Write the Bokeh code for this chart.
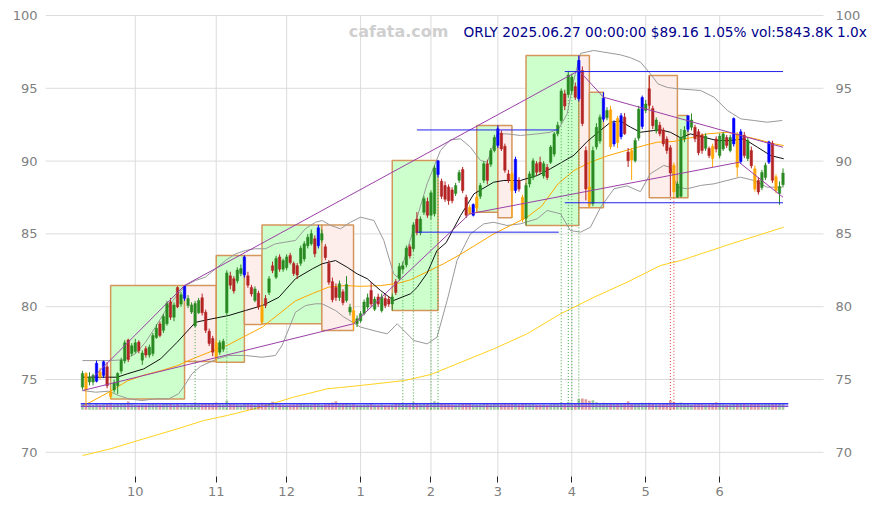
from bokeh.plotting import figure
from bokeh.models import FixedTicker, Label, Range1d, ColumnDataSource
from bokeh.core.properties import value
from bokeh.embed import file_html
from bokeh.resources import INLINE

# ---------------- data (trading-day index 0..199, 2024-09-10 .. 2025-06-27) ----------------
opens = [74.5, 75.4, 74.85, 74.85, 74.9, 75.5, 75.3, 75.85, 74.1, 74.3,
         74.6, 75.6, 76.3, 77.7, 76.8, 76.95, 77.55, 76.35, 77.1, 76.7,
         76.8, 77.9, 78.8, 78.4, 78.85, 80.3, 79.3, 81.3, 80.2, 80.6,
         80.1, 79.65, 78.7, 79.6, 80.6, 79.6, 78.3, 77.8, 77.5, 76.9,
         77.1, 79.6, 82.1, 81.9, 81.8, 82.3, 82.2, 82.1, 81.3, 80.45,
         80.9, 80.0, 80.55, 81.0, 82.8, 82.05, 83.4, 82.6, 82.7, 83.5,
         82.95, 82.8, 83.0, 83.3, 84.2, 84.35, 84.65, 84.2, 84.6, 84.1,
         82.95, 81.7, 81.3, 80.65, 81.0, 80.45, 79.65, 79.7, 78.85, 79.05,
         79.55, 80.0, 81.1, 79.85, 80.65, 79.75, 80.55, 80.5, 80.2, 81.7,
         81.95, 82.6, 82.9, 84.1, 84.0, 86.0, 85.1, 86.5, 87.2, 86.3,
         86.4, 89.1, 88.6, 88.3, 88.2, 88.0, 87.8, 88.7, 89.4, 87.5,
         86.8, 86.3, 86.8, 87.6, 88.7, 89.8, 89.8, 90.75, 91.1, 91.9,
         91.0, 89.1, 89.1, 88.0, 88.65, 87.5, 86.1, 88.45, 88.9, 89.8,
         89.9, 89.0, 89.55, 89.95, 90.5, 91.9, 92.8, 94.6, 94.6, 94.85,
         95.1, 94.3, 96.2, 90.7, 88.2, 87.1, 91.0, 91.4, 92.9, 93.0,
         93.5, 91.2, 92.9, 91.7, 93.0, 90.6, 90.7, 90.05, 91.6, 92.4,
         93.5, 94.95, 93.6, 92.1, 92.45, 92.1, 91.5, 90.9, 89.7, 87.55,
         87.6, 91.55, 92.2, 92.35, 92.3, 92.0, 91.75, 90.9, 90.85, 91.0,
         91.5, 90.4, 90.85, 91.6, 90.75, 91.2, 91.85, 90.0, 91.75, 90.2,
         90.7, 89.45, 88.65, 88.2, 88.9, 89.95, 91.2, 88.9, 87.8, 88.4]
highs = [75.6, 75.5, 75.5, 75.4, 76.3, 75.8, 76.3, 76.2, 74.4, 75.0,
         75.5, 76.5, 77.7, 77.8, 77.5, 77.8, 77.7, 77.0, 77.3, 77.4,
         78.2, 78.8, 79.0, 79.5, 80.4, 80.6, 80.3, 81.4, 81.0, 81.46,
         80.8, 80.3, 80.4, 80.6, 80.9, 79.8, 78.5, 78.0, 77.7, 77.7,
         77.8, 82.5, 82.4, 82.1, 82.7, 82.9, 83.52, 82.4, 81.5, 81.4,
         81.1, 80.3, 80.8, 82.1, 83.1, 83.5, 83.6, 83.3, 83.6, 83.7,
         83.1, 83.0, 84.2, 84.5, 85.0, 85.3, 84.9, 85.62, 85.3, 84.3,
         83.2, 82.0, 81.6, 81.8, 81.2, 82.1, 80.2, 79.9, 79.4, 79.7,
         80.5, 80.9, 81.7, 80.7, 80.9, 80.9, 80.8, 80.7, 80.9, 81.9,
         83.0, 83.1, 84.2, 84.3, 85.8, 86.5, 86.2, 87.6, 87.5, 88.0,
         89.7, 90.04, 88.8, 88.6, 88.4, 88.2, 88.5, 89.4, 89.6, 87.7,
         87.0, 87.1, 87.7, 88.5, 90.0, 90.1, 90.9, 91.8, 92.45, 92.1,
         91.2, 89.4, 89.3, 90.3, 88.9, 87.7, 88.5, 89.3, 90.2, 90.0,
         90.3, 90.0, 89.8, 91.1, 92.0, 92.7, 95.0, 94.9, 96.2, 96.0,
         95.4, 97.25, 96.5, 91.0, 90.0, 91.0, 92.6, 93.2, 94.73, 93.7,
         93.8, 92.8, 93.1, 93.3, 93.3, 90.9, 90.9, 91.6, 93.8, 94.5,
         94.2, 95.88, 93.8, 93.0, 92.7, 92.3, 91.7, 91.1, 89.9, 88.6,
         92.2, 92.4, 93.13, 93.27, 92.5, 92.2, 91.9, 91.9, 91.0, 91.2,
         91.7, 91.9, 92.0, 91.8, 91.8, 93.0, 92.0, 92.2, 92.0, 91.6,
         91.0, 89.7, 88.9, 89.4, 89.9, 91.4, 91.4, 89.1, 88.6, 89.5]
lows = [74.3, 73.2, 74.6, 74.6, 74.8, 75.0, 75.1, 74.4, 73.67, 74.1,
        74.0, 75.4, 76.1, 76.2, 76.6, 76.8, 76.8, 76.0, 76.5, 76.5,
        76.6, 77.8, 77.9, 78.2, 78.7, 79.1, 79.0, 79.9, 80.0, 80.4,
        79.9, 79.5, 78.6, 79.5, 79.4, 78.2, 77.3, 76.6, 76.24, 76.7,
        76.9, 79.4, 81.2, 80.9, 81.6, 82.1, 82.0, 81.3, 80.7, 80.3,
        79.8, 78.78, 79.9, 80.8, 82.3, 81.9, 82.4, 82.4, 82.5, 82.9,
        82.1, 81.9, 82.8, 83.1, 84.0, 84.2, 83.4, 84.0, 84.4, 83.2,
        81.5, 80.3, 80.4, 80.4, 80.1, 80.3, 79.4, 78.37, 78.6, 78.9,
        79.4, 79.8, 80.0, 79.7, 80.0, 79.6, 79.9, 80.0, 79.74, 80.8,
        81.8, 82.3, 82.7, 83.3, 83.8, 84.9, 84.9, 86.3, 86.1, 86.0,
        86.2, 88.9, 87.4, 87.2, 87.0, 87.1, 87.6, 88.5, 87.8, 86.1,
        86.3, 86.2, 86.49, 87.4, 88.5, 88.4, 89.6, 90.6, 90.9, 90.7,
        89.2, 88.5, 86.11, 87.8, 87.9, 85.8, 85.58, 88.2, 88.7, 89.0,
        89.1, 88.8, 88.7, 89.8, 90.3, 91.7, 92.6, 93.5, 94.4, 94.6,
        94.2, 94.1, 92.4, 87.3, 86.79, 86.9, 90.8, 91.2, 92.7, 92.8,
        90.8, 91.0, 90.9, 91.5, 91.8, 89.6, 88.7, 89.9, 91.4, 92.2,
        93.3, 93.6, 92.2, 91.9, 91.7, 91.0, 90.5, 87.6, 87.48, 87.48,
        87.5, 91.3, 92.0, 92.1, 91.3, 90.4, 90.5, 90.7, 90.2, 89.6,
        90.6, 90.2, 90.7, 90.9, 90.6, 91.0, 88.9, 89.8, 90.2, 90.0,
        89.5, 87.9, 87.7, 88.0, 88.7, 89.8, 88.5, 87.8, 87.0, 88.2]
closes = [75.4, 74.3, 75.15, 75.25, 76.1, 75.2, 76.2, 74.6, 73.85, 74.75,
          75.4, 76.3, 77.5, 76.4, 77.3, 77.5, 77.0, 76.8, 76.7, 77.2,
          78.0, 78.5, 78.05, 79.3, 80.2, 79.3, 80.1, 80.0, 80.8, 81.4,
          80.55, 80.1, 80.2, 80.4, 79.6, 78.4, 77.5, 76.9, 76.5, 77.5,
          77.6, 82.3, 81.5, 81.1, 82.5, 82.6, 83.4, 81.5, 80.9, 81.2,
          80.0, 79.0, 80.1, 81.9, 82.5, 83.3, 82.6, 83.15, 83.4, 83.05,
          82.3, 82.2, 84.0, 84.3, 84.75, 85.0, 83.65, 85.4, 85.0, 83.4,
          81.7, 80.5, 80.65, 81.55, 80.3, 81.5, 79.95, 78.9, 79.15, 79.5,
          80.3, 80.6, 80.2, 80.5, 80.2, 80.65, 80.1, 80.2, 80.65, 81.0,
          82.75, 82.8, 84.0, 83.5, 85.6, 85.1, 86.0, 87.4, 86.3, 87.8,
          89.5, 90.0, 87.6, 87.4, 87.3, 87.3, 88.3, 89.2, 88.0, 86.3,
          86.4, 87.0, 87.5, 88.3, 89.8, 88.7, 90.7, 91.6, 92.2, 90.85,
          89.4, 88.7, 88.0, 90.1, 88.1, 86.0, 88.3, 89.1, 90.0, 89.25,
          89.3, 89.8, 88.9, 90.95, 91.85, 92.45, 94.8, 93.8, 95.9, 95.75,
          94.4, 96.9, 92.6, 88.1, 87.0, 90.7, 92.3, 93.0, 94.3, 93.45,
          91.0, 92.6, 91.3, 93.1, 91.9, 90.05, 90.1, 91.4, 93.55, 94.35,
          93.9, 93.85, 92.45, 92.8, 91.9, 91.2, 90.75, 89.2, 87.9, 88.4,
          91.6, 92.1, 93.1, 92.8, 91.55, 90.6, 90.75, 91.7, 90.4, 90.2,
          90.85, 91.7, 91.85, 91.1, 91.6, 92.9, 89.6, 92.0, 90.4, 91.4,
          89.7, 88.1, 87.9, 89.2, 89.7, 91.3, 88.7, 88.0, 88.23, 89.16]
volumes = [5200, 6100, 4800, 4300, 5600, 4700, 5100, 5900, 6400, 4900,
           5300, 5800, 6200, 7600, 5000, 4600, 4400, 4900, 4700, 5100,
           5500, 5200, 4800, 5300, 6000, 5400, 4900, 6300, 4700, 5600,
           4500, 4800, 6100, 5000, 5300, 5900, 5600, 6200, 6800, 5100,
           4900, 8200, 6100, 5200, 5000, 4600, 5800, 5400, 5200, 4700,
           5600, 6400, 5100, 5500, 7400, 5300, 5000, 4600, 4400, 4700,
           4900, 5200, 5600, 5100, 4800, 5000, 5500, 5900, 4300, 5200,
           6300, 6600, 7900, 5100, 5300, 5700, 4800, 6200, 4500, 4400,
           4600, 4900, 5400, 4700, 4500, 4800, 4300, 4200, 4600, 5900,
           6200, 5400, 5800, 5200, 6900, 5600, 5000, 6300, 5500, 6100,
           7800, 6500, 5900, 5300, 5100, 4800, 4600, 5200, 5700, 6000,
           5400, 5100, 4900, 5200, 5600, 5300, 4900, 5400, 5800, 5200,
           5900, 5000, 6200, 5700, 4800, 5900, 6100, 5000, 5300, 4700,
           4600, 4800, 4500, 5100, 5600, 5200, 6800, 6300, 7200, 6400,
           6100, 9800, 10400, 9600, 8300, 8800, 6900, 6200, 6400, 5500,
           6300, 5800, 5900, 6000, 5400, 7900, 6200, 5800, 6300, 6500,
           5600, 6400, 5900, 5000, 5200, 5400, 5700, 8600, 7200, 6300,
           6800, 5400, 5600, 4900, 5100, 5500, 5000, 4800, 5100, 5600,
           6900, 5300, 5000, 4700, 4800, 5900, 6300, 6100, 5500, 5200,
           5600, 5800, 5400, 5000, 5300, 6000, 6200, 5700, 6100, 5843.8]
blue_idx = [4, 6, 29, 46, 67, 101, 111, 118, 123, 141, 148, 151, 153, 159, 172, 185, 187, 195]
orange_idx = [1, 5, 8, 38, 51, 77, 110, 112, 122, 125, 144, 150, 152, 156, 168, 179, 186, 191, 197]

month_tick_idx = [15, 38, 58, 79, 99, 118, 139, 160, 181]
month_labels = ["10", "11", "12", "1", "2", "3", "4", "5", "6"]
price_ticks = [70, 75, 80, 85, 90, 95, 100]

# moving averages / bands (index, price)
sma_i = [0, 9.9, 12.7, 17.4, 22.2, 26.9, 32.1, 36.8, 41.6, 46.3, 51.1, 55.8, 60.5, 65.3, 68.1,
         71.9, 75.2, 78.0, 80.9, 84.7, 88.4, 93.2, 95.1, 97.9, 100.7, 103.3, 107.4, 111.2, 116.8,
         119.7, 124.4, 129.2, 132.9, 135.8, 139.6, 143.4, 146.6, 150, 152.8, 155.7, 158.5, 162.3,
         164.2, 167, 169.9, 172.7, 176.5, 180.3, 184.1, 187.9, 191.7, 195.5, 199.2]
sma_p = [75.16, 75.16, 75.39, 75.73, 76.42, 77.56, 78.93, 79.17, 79.4, 79.74, 80.08, 80.65, 81.92,
         82.6, 82.95, 83.17, 82.71, 82.26, 81.92, 81.11, 80.43, 80.89, 81.34, 82.3, 83.86, 84.4,
         86.26, 87.75, 88.55, 88.67, 88.67, 89.01, 89.47, 89.87, 90.4, 91.35, 92.0, 92.67, 92.75,
         92.33, 91.98, 92.1, 92.15, 91.98, 91.6, 91.87, 91.64, 91.41, 91.41, 91.53, 90.96, 90.38, 90.16]
bbu_i = [0, 7.5, 11.3, 15.1, 17.9, 20.7, 23.6, 26.4, 29.3, 32.1, 34.9, 37.8, 40.6, 43.5, 46.3,
         49.1, 52, 54.8, 60.5, 63.3, 66.2, 68.1, 70.5, 73.3, 76.1, 79, 82.8, 85.6, 88.4, 89.4,
         91.3, 95.1, 97.9, 101.7, 104.5, 107.4, 110.2, 113.1, 115, 117.8, 120.6, 124.4, 129.2,
         132.9, 135.3, 137.7, 139.5, 141.5, 145.2, 147.7, 152.8, 155.7, 158.5, 161, 163.5, 166.2,
         170, 175.6, 179.4, 183.2, 187, 190.7, 194.5, 198.8]
bbu_p = [76.3, 76.3, 76.35, 76.77, 77.56, 78.59, 79.74, 80.65, 81.46, 81.8, 82.03, 82.6, 83.17,
         83.63, 83.86, 83.98, 83.98, 84.32, 84.55, 85.35, 85.8, 85.92, 85.58, 85.35, 85.8, 86.15,
         85.92, 84.55, 82.26, 82.03, 83.17, 86.15, 88.44, 90.73, 91.46, 91.53, 90.96, 90.04, 89.92,
         91.87, 91.87, 91.76, 91.87, 91.98, 92.22, 93.25, 95.5, 97.4, 97.6, 97.5, 97.3, 97.1, 96.8,
         96.1, 95.3, 95.05, 94.95, 94.85, 94.39, 93.48, 92.9, 92.79, 92.67, 92.79]
bbl_i = [0, 3.8, 7.5, 10.3, 13.2, 16.9, 20.7, 24.5, 27.3, 29.3, 31.1, 33.5, 38.3, 41.6, 46.3,
         51, 54.8, 56.7, 58.6, 60.5, 63.4, 66.2, 68.1, 70, 71.9, 74.2, 79, 83.7, 86.6, 89.4,
         94.1, 97.9, 100.7, 103.6, 106.4, 110.2, 114, 116.8, 120.6, 124.4, 129.2, 132, 135.8,
         138.6, 141.5, 144.3, 147.2, 151, 154.7, 158.5, 161.3, 165.1, 167, 168.9, 171.8, 175.6,
         179.4, 183.1, 186.9, 190.7, 194.5, 198.8]
bbl_p = [74.24, 74.13, 74.2, 73.9, 73.67, 73.56, 73.67, 73.67, 74.02, 74.7, 75.39, 75.9, 76.42,
         76.65, 76.65, 76.53, 76.65, 77.34, 78.48, 79.62, 80.08, 80.2, 80.2, 79.97, 79.74, 79.3,
         78.6, 78.3, 78.14, 78.83, 77.68, 77.45, 77.9, 80.43, 83.17, 85.0, 85.69, 85.8, 85.58,
         85.69, 86.04, 86.61, 86.38, 85.23, 85.12, 85.46, 86.84, 88.1, 88.3, 87.9, 89.13, 89.7,
         89.58, 88.21, 88.1, 88.33, 88.44, 88.67, 88.9, 88.67, 88.21, 88.21]
ma_mid_i = [0, 2.3, 8, 12.7, 17.4, 22.2, 26.9, 32.1, 36.8, 41.6, 46.3, 51.1, 55.8, 60.5, 65.3,
            70.0, 74.5, 79, 84.7, 89.5, 93.2, 97.9, 102.6, 107.4, 112.1, 116.8, 121.6, 126.3,
            130.4, 135.1, 139.6, 144.3, 149, 154.7, 159.5, 163.3, 168.0, 172.7, 177.4, 183.1,
            186.9, 191.7, 196.4, 199.2]
ma_mid_p = [73.2, 73.45, 74.2, 74.9, 75.3, 75.6, 75.95, 76.5, 76.95, 77.4, 78.0, 78.6, 79.5,
            80.4, 80.9, 81.35, 81.45, 81.4, 81.45, 81.6, 81.85, 82.4, 82.95, 83.6, 84.3, 85.0,
            85.58, 86.15, 86.9, 88.44, 89.35, 89.93, 90.35, 90.75, 91.07, 91.3, 91.35, 91.6,
            91.87, 91.98, 91.76, 91.5, 91.19, 91.07]
ma_long_i = [0, 8, 17.4, 26.9, 34.4, 41.1, 50.6, 60.0, 69.5, 79.0, 91.5, 99, 116.8, 126.3,
             135.8, 145.3, 154.7, 164.2, 169.9, 184, 199.2]
ma_long_p = [69.78, 70.24, 70.93, 71.61, 72.18, 72.53, 73.1, 73.79, 74.36, 74.59, 74.93, 75.35,
             77.1, 78.14, 79.51, 80.65, 81.68, 82.83, 83.17, 84.3, 85.46]

# trend channel pivots (index, price)
upper_trend_i = [3, 29, 141, 148, 199]
upper_trend_p = [75.14, 81.46, 96.22, 94.39, 90.95]
lower_trend_i = [0, 77, 110, 186.5, 199]
lower_trend_p = [74.24, 78.83, 86.38, 89.92, 87.52]

# swing boxes
box_left = [8, 29, 38, 46, 51, 68, 88, 112, 118, 126, 141, 144, 161, 169]
box_right = [29, 38, 46, 51, 68, 77, 101, 118, 122, 141, 144, 148, 169, 172]
box_top = [81.46, 81.46, 83.52, 83.52, 85.62, 85.62, 90.04, 92.45, 92.45, 97.25, 97.25, 94.73, 95.88, 93.13]
box_bottom = [73.67, 76.24, 76.19, 78.78, 78.83, 78.37, 79.74, 86.49, 86.11, 85.58, 86.79, 86.79, 87.48, 87.48]
box_up = [True, False, True, False, True, False, True, True, False, True, False, True, False, True]

# horizontal support / resistance levels
level_start = [95, 95, 137, 137]
level_end = [135.3, 135.3, 199, 199]
level_price = [92.14, 85.12, 96.15, 87.14]

# signal days
buy_signal_idx = [32, 41, 91, 94, 99, 101, 136, 138, 139, 141]
sell_signal_idx = [167, 168]

vol_ref_levels = [5470, 3330]

title_text = "ORLY 2025.06.27 00:00:00 $89.16 1.05% vol:5843.8K 1.0x"
watermark = "cafata.com"

# ---------------- style ----------------
GREEN = "#2a8a22"
RED = "#b52424"
BLUE = "#0000ff"
ORANGE = "#ffa500"
GRID = "#dcdcdc"
VOL_BASE = 72.92
VOL_SCALE = 7.5e-5
X_LO, X_HI = -10.5, 210.5          # price-panel extent (index units)
Y_LO, Y_HI = 68.34, 100.0          # price-panel extent (price units)

n = len(closes)
idx = list(range(n))
colors = []
for i in idx:
    if i in blue_idx:
        colors.append(BLUE)
    elif i in orange_idx:
        colors.append(ORANGE)
    elif closes[i] >= opens[i]:
        colors.append(GREEN)
    else:
        colors.append(RED)
vol_colors = [GREEN if closes[i] >= opens[i] else RED for i in idx]
body_top = [max(o, c) + 0.02 for o, c in zip(opens, closes)]
body_bot = [min(o, c) - 0.02 for o, c in zip(opens, closes)]

src = ColumnDataSource(dict(x=idx, o=opens, h=highs, l=lows, c=closes, top=body_top,
                            bot=body_bot, col=colors, vtop=[VOL_BASE + v * VOL_SCALE for v in volumes],
                            vbot=[VOL_BASE] * n, vcol=vol_colors))

# frame spans page x 45..872, y 0..476 (price panel itself is x 45..823, y 15..476);
# the extra room holds the right-hand price labels and the header text
p = figure(width=876, height=504, output_backend="svg", toolbar_location=None,
           x_range=Range1d(X_LO, 224.42), y_range=Range1d(Y_LO, 101.03),
           min_border_left=45, min_border_right=4, min_border_top=0, min_border_bottom=28,
           y_axis_location="left")
p.outline_line_color = None
p.background_fill_color = "white"
p.border_fill_color = "white"
p.grid.visible = False

ya = p.yaxis[0]
ya.ticker = FixedTicker(ticks=price_ticks)
ya.axis_line_color = None
ya.major_tick_line_color = None
ya.minor_tick_line_color = None
ya.major_label_text_color = "#808080"
ya.major_label_text_font = "DejaVu Sans"
ya.major_label_text_font_size = "13px"
ya.major_label_standoff = 8
ya.major_tick_out = 0
ya.major_tick_in = 0

xa = p.xaxis[0]
xa.ticker = FixedTicker(ticks=month_tick_idx)
xa.major_label_overrides = {t: l for t, l in zip(month_tick_idx, month_labels)}
xa.axis_line_color = None
xa.minor_tick_line_color = None
xa.major_tick_line_color = "#222222"
xa.major_tick_out = 6
xa.major_tick_in = 0
xa.major_label_standoff = 4
xa.major_label_text_color = "#808080"
xa.major_label_text_font = "DejaVu Sans"
xa.major_label_text_font_size = "13px"

# grid lines limited to the price panel
p.segment(x0=[X_LO] * len(price_ticks), x1=[X_HI] * len(price_ticks), y0=price_ticks, y1=price_ticks,
          line_color=GRID, line_width=1)
p.segment(x0=month_tick_idx, x1=month_tick_idx, y0=[Y_LO] * len(month_tick_idx),
          y1=[Y_HI] * len(month_tick_idx), line_color=GRID, line_width=1)

# right-hand price labels
p.text(x=[213.9] * len(price_ticks), y=price_ticks, text=[str(t) for t in price_ticks],
       text_align="left", text_baseline="middle", text_font=value("DejaVu Sans"),
       text_font_size="13px", text_color="#808080")

# boxes
bsrc = ColumnDataSource(dict(l=box_left, r=box_right, t=box_top, b=box_bottom,
                             f=["#ccffcc" if u else "#fdeeec" for u in box_up]))
p.quad(left="l", right="r", top="t", bottom="b", fill_color="f", fill_alpha=1.0,
       line_color="#d4965a", line_width=1.5, source=bsrc)

# lines
p.line(ma_long_i, ma_long_p, line_color="#ffd21f", line_width=1)
p.line(bbu_i, bbu_p, line_color="#999999", line_width=1)
p.line(bbl_i, bbl_p, line_color="#999999", line_width=1)
p.line(ma_mid_i, ma_mid_p, line_color="#ffa500", line_width=1)
p.line(sma_i, sma_p, line_color="#111111", line_width=1)

# signal verticals
p.segment(x0=buy_signal_idx, x1=buy_signal_idx, y0=[lows[i] for i in buy_signal_idx],
          y1=[VOL_BASE] * len(buy_signal_idx), line_color="#44aa44", line_width=1, line_dash="1 2")
p.segment(x0=sell_signal_idx, x1=sell_signal_idx, y0=[lows[i] for i in sell_signal_idx],
          y1=[VOL_BASE] * len(sell_signal_idx), line_color="#dd4444", line_width=1, line_dash="1 2")

# volume
p.vbar(x="x", width=0.75, top="vtop", bottom="vbot", fill_color="vcol", fill_alpha=0.45,
       line_color=None, source=src)
p.segment(x0=[-0.5, -0.5], x1=[n + 0.5, n + 0.5],
          y0=[VOL_BASE + v * VOL_SCALE for v in vol_ref_levels],
          y1=[VOL_BASE + v * VOL_SCALE for v in vol_ref_levels],
          line_color=["#3333ff", "#7a4fd0"], line_width=1.5)

# candles
p.segment(x0="x", x1="x", y0="l", y1="h", line_color="col", line_width=1, source=src)
p.vbar(x="x", width=0.7, top="top", bottom="bot", fill_color="col", line_color="col",
       line_width=0.5, source=src)

# trend lines and levels
p.line(upper_trend_i, upper_trend_p, line_color="#9b3fa6", line_width=1)
p.line(lower_trend_i, lower_trend_p, line_color="#9b3fa6", line_width=1)
p.segment(x0=level_start, x1=level_end, y0=level_price, y1=level_price,
          line_color="#2222ee", line_width=1)

# texts
p.add_layout(Label(x=89.8, y=98.9, text=watermark, text_align="center", text_baseline="middle",
                   text_font="DejaVu Sans", text_font_style="bold", text_font_size="16px",
                   text_color="#cfcfcf"))
p.add_layout(Label(x=108.24, y=98.9, text=title_text, text_align="left", text_baseline="middle",
                   text_font="DejaVu Sans", text_font_size="13.7px", text_color="#00008b"))

open("out.html", "w").write(file_html(p, INLINE))
